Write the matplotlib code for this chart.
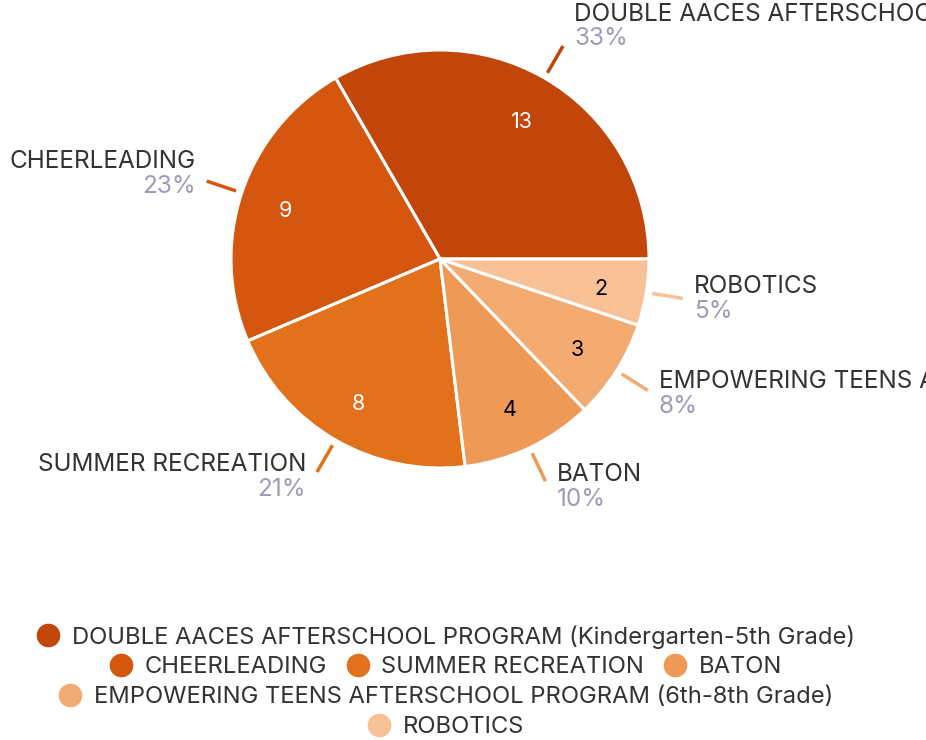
import matplotlib.pyplot as plt
from matplotlib.lines import Line2D
import numpy as np

programs = ["DOUBLE AACES AFTERSCHOOL PROGRAM (Kindergarten-5th Grade)",
            "CHEERLEADING", "SUMMER RECREATION", "BATON",
            "EMPOWERING TEENS AFTERSCHOOL PROGRAM (6th-8th Grade)", "ROBOTICS"]
counts = [13, 9, 8, 4, 3, 2]
colors = ["#C2450A", "#D4560F", "#E2711B", "#EE9A56", "#F3AB72", "#F8C196"]
inner_text = ["white", "white", "white", "black", "black", "black"]
legend_rows = [[0], [1, 2, 3], [4], [5]]

W, H = 926, 740
FONT = "Inter"
fig = plt.figure(figsize=(W / 100, H / 100), dpi=100)
ax = fig.add_axes([0, 0, 1, 1])

cx, cy, r = 440, H - 259, 209
total = sum(counts)

wedges, _, autotexts = ax.pie(counts, colors=colors, startangle=0, counterclock=True,
                              center=(cx, cy), radius=r, frame=True,
                              autopct=lambda p: "%d" % round(p * total / 100),
                              pctdistance=0.78,
                              wedgeprops=dict(edgecolor="white", linewidth=2.2))
ax.set_xlim(0, W)
ax.set_ylim(0, H)
ax.axis("off")
for t, c in zip(autotexts, inner_text):
    t.set_color(c)
    t.set_fontsize(15.5)
    t.set_fontfamily(FONT)
    t.set_y(t.get_position()[1] - 4)

# outside labels with leader lines
for i, w in enumerate(wedges):
    mid = np.deg2rad((w.theta1 + w.theta2) / 2)
    ca, sa = np.cos(mid), np.sin(mid)
    x0, y0 = cx + (r + 6) * ca, cy + (r + 6) * sa
    x1, y1 = cx + (r + 37) * ca, cy + (r + 37) * sa
    ax.plot([x0, x1], [y0, y1], color=colors[i], lw=2.5, solid_capstyle="butt")
    pct = "%d%%" % round(100 * counts[i] / total)
    if ca >= 0:
        ha, tx = "left", x1 + 11
    else:
        ha, tx = "right", x1 - 11
    ty = y1 + (23 * sa if sa > 0 else 6 * sa)
    ax.text(tx, ty + 12.5, programs[i], ha=ha, va="center", fontsize=17.5,
            color="#333333", family=FONT)
    ax.text(tx, ty - 12.5, pct, ha=ha, va="center", fontsize=17.5,
            color="#9C9CB9", family=FONT)

# legend rows
row_y = [637, 667, 697, 727]
for row, yy in zip(legend_rows, row_y):
    handles = [Line2D([], [], marker="o", ls="", markersize=16,
                      markerfacecolor=colors[k], markeredgecolor=colors[k]) for k in row]
    leg = fig.legend(handles, [programs[k] for k in row], loc="center",
                     bbox_to_anchor=(0.481, 1 - yy / H), ncol=len(row), frameon=False,
                     handletextpad=0.5, columnspacing=0.8, handlelength=1.0,
                     borderpad=0, prop={"family": FONT, "size": 17.1})
    for t in leg.get_texts():
        t.set_color("#333333")

fig.savefig("out.png", dpi=100)
